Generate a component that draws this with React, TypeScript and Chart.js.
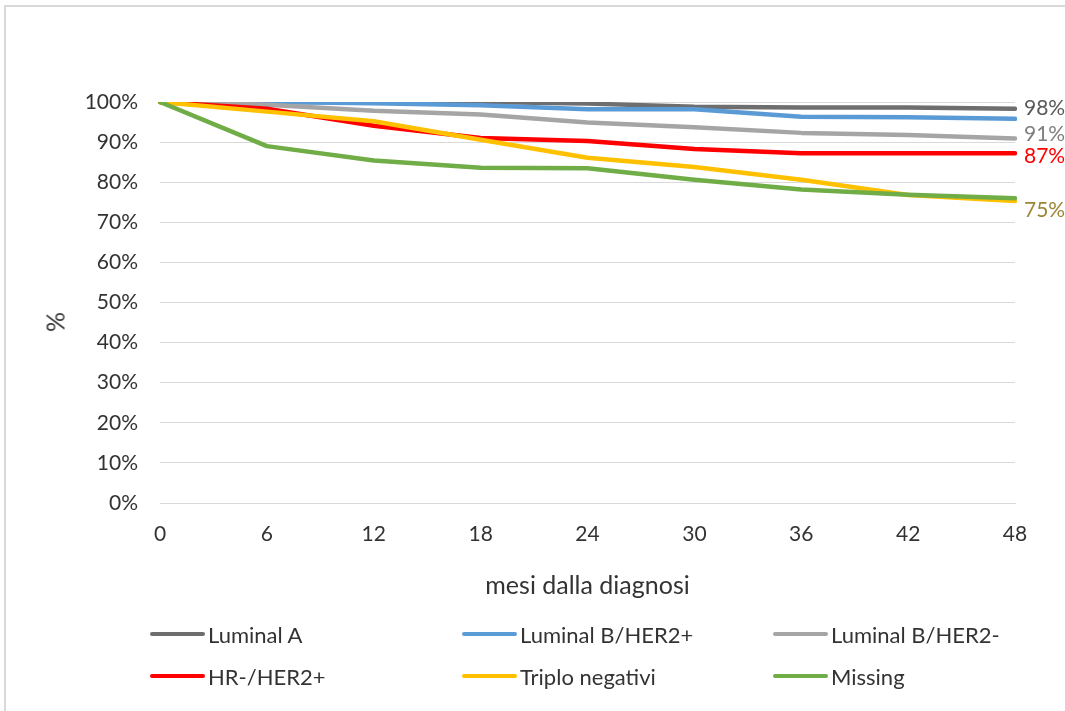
import React, { useEffect, useRef } from "react";
import { Chart, registerables } from "chart.js";

Chart.register(...registerables);

const months = ["0", "6", "12", "18", "24", "30", "36", "42", "48"];
const yTickValues = [0, 10, 20, 30, 40, 50, 60, 70, 80, 90, 100];

const seriesNames = [
  "Luminal A",
  "Luminal B/HER2+",
  "Luminal B/HER2-",
  "HR-/HER2+",
  "Triplo negativi",
  "Missing",
];

const luminalA = [100, 100, 100, 100, 99.6, 98.8, 98.6, 98.6, 98.3];
const luminalBHer2Pos = [100, 100, 99.7, 99.2, 98.2, 98.2, 96.3, 96.2, 95.8];
const luminalBHer2Neg = [100, 99.3, 97.8, 96.9, 94.9, 93.7, 92.3, 91.8, 90.9];
const hrHer2Pos = [100, 98.3, 94.1, 91.0, 90.3, 88.3, 87.2, 87.2, 87.2];
const triploNegativi = [100, 97.6, 95.2, 90.6, 86.1, 83.8, 80.6, 76.8, 75.3];
const missing = [100, 89.0, 85.4, 83.6, 83.5, 80.6, 78.2, 76.9, 76.0];

const endLabels = ["98%", "", "91%", "87%", "75%", ""];

const xTitle = "mesi dalla diagnosi";
const yTitle = "%";

// styles
const seriesColors = ["#6E6E6E", "#5B9BD5", "#A5A5A5", "#FF0000", "#FFC000", "#70AD47"];
const endLabelColors = ["#595959", "", "#7F7F7F", "#FF0000", "#9C8535", ""];
const endLabelOffsets = [-1, 0, -4, 3, 9, 0];

const FONT = "Lato, 'Open Sans', sans-serif";
const TEXT = "#333333";

const endLabelPlugin = {
  id: "endLabels",
  afterDatasetsDraw(chart: any) {
    const ctx = chart.ctx;
    ctx.save();
    ctx.font = `21px ${FONT}`;
    ctx.textBaseline = "middle";
    ctx.textAlign = "left";
    chart.data.datasets.forEach((ds: any, i: number) => {
      const txt = endLabels[i];
      if (!txt) return;
      const meta = chart.getDatasetMeta(i);
      const pt = meta.data[meta.data.length - 1];
      ctx.fillStyle = endLabelColors[i];
      ctx.fillText(txt, pt.x + 9, pt.y + endLabelOffsets[i]);
    });
    ctx.restore();
  },
};

export default function App() {
  const ref = useRef<HTMLCanvasElement>(null);

  useEffect(() => {
    const allData = [luminalA, luminalBHer2Pos, luminalBHer2Neg, hrHer2Pos, triploNegativi, missing];
    const chart = new Chart(ref.current as HTMLCanvasElement, {
      type: "line",
      data: {
        labels: months,
        datasets: allData.map((d, i) => ({
          label: seriesNames[i],
          data: d,
          borderColor: seriesColors[i],
          backgroundColor: seriesColors[i],
          borderWidth: 4.5,
          pointRadius: 0,
          tension: 0,
          borderJoinStyle: "round" as const,
          borderCapStyle: "round" as const,
          order: allData.length - 1 - i,
        })),
      },
      options: {
        responsive: false,
        animation: false,
        layout: { padding: { left: 40, top: 102, right: 50, bottom: 108 } },
        plugins: {
          legend: { display: false },
          tooltip: { enabled: false },
        },
        scales: {
          x: {
            type: "category",
            offset: false,
            grid: { display: false, drawTicks: false },
            border: { display: true, color: "#D9D9D9", width: 1 },
            ticks: {
              color: TEXT,
              font: { family: FONT, size: 21 },
              padding: 19,
              maxRotation: 0,
              autoSkip: false,
            },
            title: {
              display: true,
              text: xTitle,
              color: TEXT,
              font: { family: FONT, size: 25 },
              padding: { top: 0, bottom: 2 },
            },
            afterFit(scale: any) {
              scale.height = 100;
            },
          },
          y: {
            min: 0,
            max: 100,
            afterBuildTicks(scale: any) {
              scale.ticks = yTickValues.map((v) => ({ value: v }));
            },
            grid: { color: "#D9D9D9", lineWidth: 1, drawTicks: false },
            border: { display: false },
            ticks: {
              color: TEXT,
              font: { family: FONT, size: 21 },
              padding: 22,
              callback: (v: any) => `${v}%`,
            },
            title: { display: false },
            afterFit(scale: any) {
              scale.width = 120;
            },
          },
        },
      },
      plugins: [endLabelPlugin],
    });
    return () => chart.destroy();
  }, []);

  const legendPos = [
    { left: 150, top: 634 },
    { left: 462, top: 634 },
    { left: 773, top: 634 },
    { left: 150, top: 676 },
    { left: 462, top: 676 },
    { left: 773, top: 676 },
  ];

  return (
    <div
      style={{
        position: "absolute",
        left: 0,
        top: 0,
        width: 1065,
        height: 711,
        background: "#fff",
        overflow: "hidden",
      }}
    >
      <div
        style={{
          position: "absolute",
          left: 4,
          top: 5,
          width: 1100,
          height: 760,
          border: "2px solid #D9D9D9",
          boxSizing: "border-box",
        }}
      />
      <canvas ref={ref} width={1065} height={711} style={{ position: "absolute", left: 0, top: 0 }} />
      <div
        style={{
          position: "absolute",
          left: 55,
          top: 322,
          transform: "translate(-50%, -50%) rotate(-90deg)",
          fontFamily: FONT,
          fontSize: 25,
          color: TEXT,
          lineHeight: 1,
          whiteSpace: "nowrap",
        }}
      >
        {yTitle}
      </div>
      {seriesNames.map((name, i) => (
        <div
          key={name}
          style={{
            position: "absolute",
            left: legendPos[i].left,
            top: legendPos[i].top - 14,
            height: 28,
            display: "flex",
            alignItems: "center",
            fontFamily: FONT,
            fontSize: 22,
            color: TEXT,
            whiteSpace: "nowrap",
          }}
        >
          <span
            style={{
              display: "inline-block",
              width: 55,
              height: 4.5,
              borderRadius: 3,
              background: seriesColors[i],
              marginRight: 3,
            }}
          />
          <span>{name}</span>
        </div>
      ))}
    </div>
  );
}
